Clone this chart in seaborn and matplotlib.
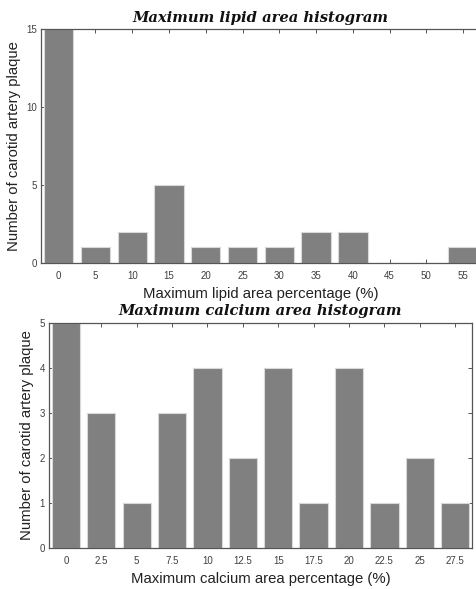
import matplotlib
matplotlib.use("Agg")
import matplotlib.pyplot as plt
import seaborn as sns
import pandas as pd

sns.set_theme(style="white")
plt.rcParams["font.family"] = ["Liberation Sans", "DejaVu Sans"]

lipid_bins = ["0", "5", "10", "15", "20", "25", "30", "35", "40", "45", "50", "55"]
lipid_counts = [15, 1, 2, 5, 1, 1, 1, 2, 2, 0, 0, 1]

calcium_bins = ["0", "2.5", "5", "7.5", "10", "12.5", "15", "17.5", "20", "22.5", "25", "27.5"]
calcium_counts = [5, 3, 1, 3, 4, 2, 4, 1, 4, 1, 2, 1]

BAR = "#808080"
AXIS = "#555555"
TICKTXT = "#404040"

fig = plt.figure(figsize=(4.77, 5.89), dpi=100)
ax1 = fig.add_axes([0.086, 0.5535, 0.922, 0.397])
ax2 = fig.add_axes([0.1027, 0.0696, 0.887, 0.382])


def draw(ax, bins, counts, ymax, yticks, title, xlabel):
    df = pd.DataFrame({"bin": bins, "count": counts})
    sns.barplot(data=df, x="bin", y="count", order=bins, color=BAR,
                saturation=1, width=0.8, edgecolor="#d9d9d9", linewidth=0.8,
                ax=ax)
    ax.set_xlim(-0.48, 11.48)
    ax.set_ylim(0, ymax)
    ax.set_yticks(yticks)
    ax.set_title(title, fontfamily="DejaVu Serif", fontweight="bold",
                 fontstyle="italic", fontsize=10.6, pad=5.5, color="#111111")
    ax.set_xlabel(xlabel, fontsize=10.7, color="#222222", labelpad=4)
    ax.set_ylabel("Number of carotid artery plaque", fontsize=10.7,
                  color="#222222", labelpad=4)
    ax.tick_params(axis="both", direction="in", length=3, width=0.7,
                   color=AXIS, labelsize=7, labelcolor=TICKTXT,
                   top=True, right=True, bottom=True, left=True, pad=6)
    ax.tick_params(axis="y", pad=3)
    for s in ax.spines.values():
        s.set_color(AXIS)
        s.set_linewidth(0.9)
        s.set_visible(True)


draw(ax1, lipid_bins, lipid_counts, 15, [0, 5, 10, 15],
     "Maximum lipid area histogram", "Maximum lipid area percentage (%)")
draw(ax2, calcium_bins, calcium_counts, 5, [0, 1, 2, 3, 4, 5],
     "Maximum calcium area histogram", "Maximum calcium area percentage (%)")

fig.savefig("out.png", dpi=100)
